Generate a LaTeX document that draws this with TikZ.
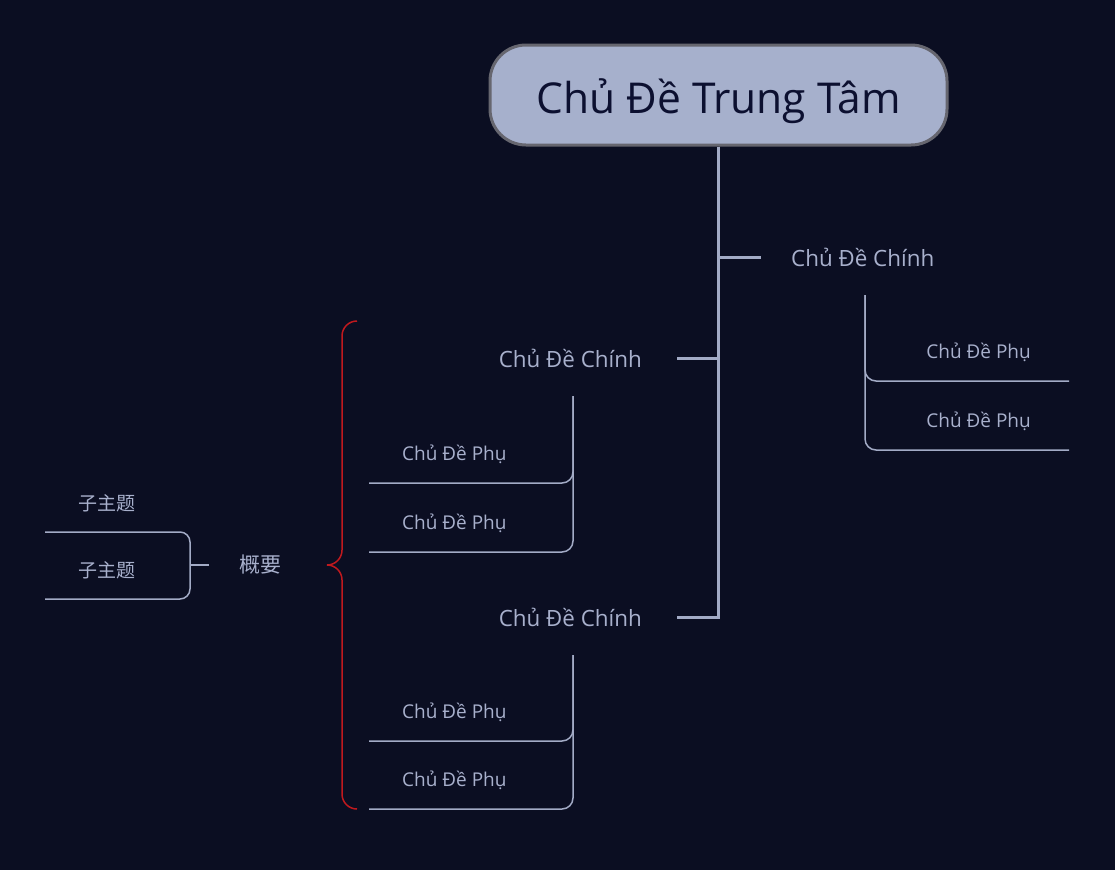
\documentclass[tikz,border=0pt]{standalone}
\usepackage{fontspec}
\setmainfont{Open Sans}
\newfontfamily\cjk{Noto Sans CJK SC}
\usepackage{xcolor}
\usetikzlibrary{positioning,calc}
\definecolor{bgnavy}{HTML}{0B0E22}
\definecolor{centralfill}{HTML}{A6B0CC}
\definecolor{centraldraw}{HTML}{66666F}
\definecolor{centraltext}{HTML}{0C1030}
\definecolor{linegray}{HTML}{A3ABC6}
\definecolor{topictext}{HTML}{A8B0CC}
\definecolor{bracered}{HTML}{C0191E}

\begin{document}
\begin{tikzpicture}[x=1pt, y=-1pt,
  central/.style={rectangle, rounded corners=36pt, minimum width=457pt,
                  minimum height=100pt, fill=centralfill, draw=centraldraw,
                  line width=3pt, text=centraltext, text height=40pt,
                  text depth=4pt, font=\fontsize{42.5}{50}\selectfont},
  maintopic/.style={rectangle, minimum height=76pt, inner xsep=30pt,
                    text=topictext, font=\fontsize{22.4}{27}\selectfont},
  subtopic/.style={rectangle, minimum height=56pt, inner xsep=33pt,
                   inner ysep=0pt, text=topictext,
                   font=\fontsize{19}{23}\selectfont},
  cjktopic/.style={subtopic, font=\cjk\fontsize{19}{23}\selectfont},
  trunk/.style={draw=linegray, line width=3pt},
  subline/.style={draw=linegray, line width=1.5pt, rounded corners=11pt},
  brace/.style={draw=bracered, line width=1.5pt},
]
  % ========= BACKGROUND =========
  \fill[bgnavy] (0,0) rectangle (1115,870);
  \useasboundingbox (0,0) rectangle (1115,870);

  % ========= CENTRAL TOPIC =========
  \node[central] (central) at (718.5,95) {Chủ Đề Trung Tâm};

  % Main topics
  \node[maintopic, anchor=west] (mainR) at (761,257) {Chủ Đề Chính};
  \node[maintopic, anchor=east, inner xsep=35pt] (mainL1) at (677,358) {Chủ Đề Chính};
  \node[maintopic, anchor=east, inner xsep=35pt] (mainL2) at (677,617) {Chủ Đề Chính};

  % Trunk and branches
  \draw[trunk] (central.south) |- (mainR.west);
  \draw[trunk] (central.south) |- (mainL1.east);
  \draw[trunk] (central.south) |- (mainL2.east);

  % ========= RIGHT MAIN TOPIC =========
  \coordinate (mainRfoot) at ($(mainR.south west)+(104,0)$);
  \node[subtopic, anchor=south east, inner xsep=38pt] (subR1) at (1069,381) {Chủ Đề Phụ};
  \node[subtopic, anchor=south east, inner xsep=38pt] (subR2) at (1069,450) {Chủ Đề Phụ};
  \draw[subline] (mainRfoot) |- (subR1.south east);
  \draw[subline] (mainRfoot) |- (subR2.south east);

  % ========= LEFT MAIN TOPICS =========
  \coordinate (mainL1foot) at ($(mainL1.south east)+(-104,0)$);
  \node[subtopic, anchor=south west] (subL1a) at (369,483) {Chủ Đề Phụ};
  \node[subtopic, anchor=south west] (subL1b) at (369,552) {Chủ Đề Phụ};
  \draw[subline] (mainL1foot) |- (subL1a.south west);
  \draw[subline] (mainL1foot) |- (subL1b.south west);

  \coordinate (mainL2foot) at ($(mainL2.south east)+(-104,0)$);
  \node[subtopic, anchor=south west] (subL2a) at (369,741) {Chủ Đề Phụ};
  \node[subtopic, anchor=south west] (subL2b) at (369,809) {Chủ Đề Phụ};
  \draw[subline] (mainL2foot) |- (subL2a.south west);
  \draw[subline] (mainL2foot) |- (subL2b.south west);

  % ========= SUMMARY =========
  \coordinate (sumtop) at (357,321);
  \coordinate (sumtip) at (327,565);
  \coordinate (sumbot) at (357,809);
  \draw[brace] (sumtop) to[out=180,in=90] (342,336) -- (342,550)
               to[out=-90,in=0] (sumtip) to[out=0,in=90] (342,580)
               -- (342,794) to[out=-90,in=180] (sumbot);

  \node[maintopic, anchor=west, font=\cjk\fontsize{21}{26}\selectfont]
       (summary) at (209,565) {概要};
  \coordinate (sumjoin) at (190,565);
  \node[cjktopic, anchor=south west] (zA) at (45,532) {子主题};
  \node[cjktopic, anchor=south west] (zB) at (45,599) {子主题};
  \draw[subline, rounded corners=10pt] (zA.south west) -| (sumjoin) |- (zB.south west);
  \draw[subline] (summary.west) -- (sumjoin);

\end{tikzpicture}
\end{document}
